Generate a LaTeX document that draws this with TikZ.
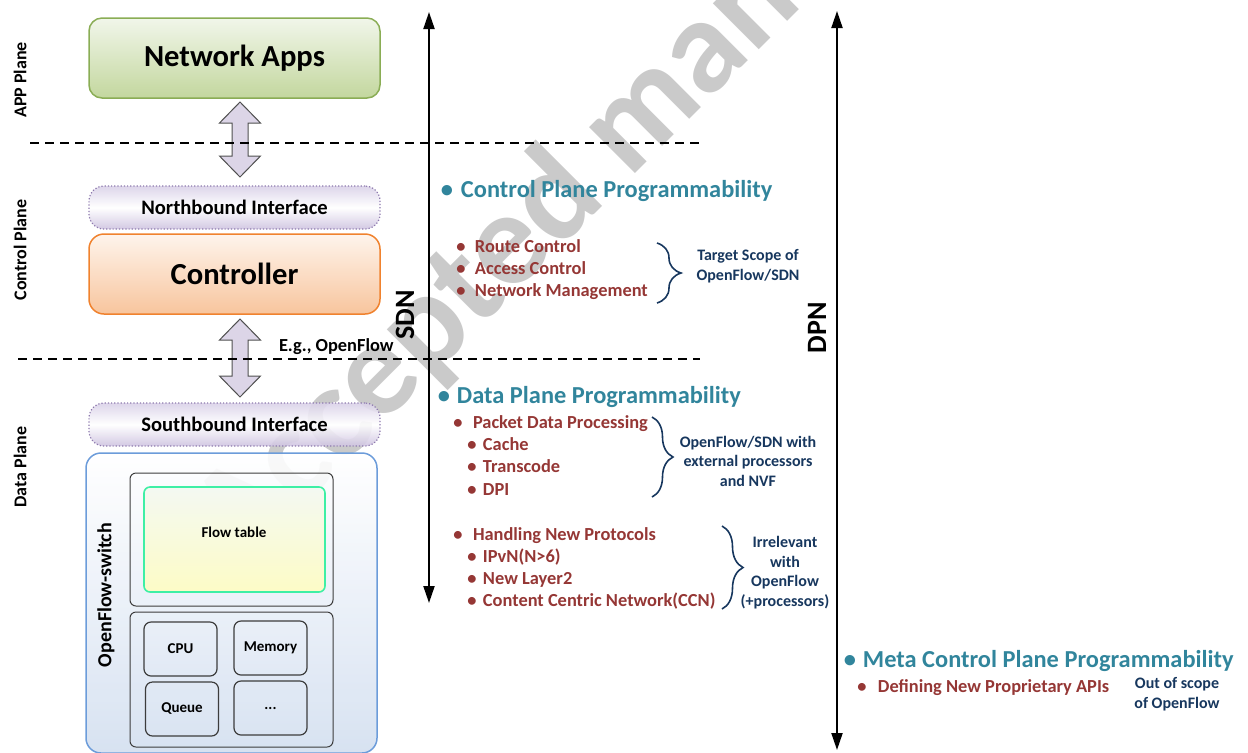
\documentclass[tikz,border=0pt]{standalone}
\usepackage{fontspec}
\setmainfont{Carlito}
\usetikzlibrary{arrows.meta,decorations.pathreplacing,calc}
\definecolor{wmgray}{HTML}{CACACA}
\definecolor{appsborder}{HTML}{8AAD55}
\definecolor{appstop}{HTML}{F1F6EA}
\definecolor{appsbot}{HTML}{C3D79E}
\definecolor{ifaceborder}{HTML}{8E7AAE}
\definecolor{ifacetop}{HTML}{D9D1E8}
\definecolor{ifacebot}{HTML}{CEC3E0}
\definecolor{ctrlborder}{HTML}{F0822E}
\definecolor{ctrltop}{HTML}{FEF4EC}
\definecolor{ctrlbot}{HTML}{F8C59D}
\definecolor{swborder}{HTML}{6C9CDA}
\definecolor{swbot}{HTML}{D3DFF0}
\definecolor{innerborder}{HTML}{3C3C3C}
\definecolor{flowborder}{HTML}{3EEFA5}
\definecolor{flowtop}{HTML}{F4F9F2}
\definecolor{flowbot}{HTML}{FDFBC6}
\definecolor{arrowfill}{HTML}{DCD5E7}
\definecolor{arrowborder}{HTML}{505050}
\definecolor{teal}{HTML}{31859C}
\definecolor{dred}{HTML}{953735}
\definecolor{navy}{HTML}{17375E}
\newcommand{\bl}[1]{\llap{\textbullet\hspace{#1}}}
\begin{document}
\begin{tikzpicture}[x=0.5pt,y=-0.5pt,
  every node/.style={inner sep=0pt, outer sep=0pt},
  wm/.style={text=wmgray, font=\fontsize{67}{67}\selectfont\bfseries, rotate=45, anchor=base west},
  appsbox/.style={draw=appsborder, line width=0.75pt, top color=appstop, bottom color=appsbot,
    minimum width=145.5pt, minimum height=40pt, rounded corners=6.5pt,
    font=\fontsize{15.3}{18}\selectfont\bfseries},
  ifacebox/.style={draw=ifaceborder, densely dotted, line width=0.6pt, top color=ifacetop,
    bottom color=ifacebot, middle color=white, fill opacity=0.9, text opacity=1,
    minimum width=145.5pt, minimum height=21.5pt, rounded corners=7.5pt,
    font=\fontsize{10.3}{12}\selectfont\bfseries},
  ctrlbox/.style={draw=ctrlborder, line width=0.75pt, top color=ctrltop, bottom color=ctrlbot,
    minimum width=145.5pt, minimum height=40pt, rounded corners=7.5pt,
    font=\fontsize{15.3}{18}\selectfont\bfseries},
  switchbox/.style={draw=swborder, line width=0.75pt, top color=white, bottom color=swbot,
    fill opacity=0.9, minimum width=145.5pt, minimum height=150pt, rounded corners=7.5pt},
  innerbox/.style={draw=innerborder, line width=0.5pt, rounded corners=3pt, minimum width=101.5pt},
  flowbox/.style={draw=flowborder, line width=0.8pt, top color=flowtop, bottom color=flowbot,
    rounded corners=3pt, minimum width=90.5pt, minimum height=52.5pt},
  unitbox/.style={draw=innerborder, line width=0.6pt, rounded corners=3.5pt,
    minimum width=36.5pt, minimum height=27pt, font=\fontsize{7.5}{9}\selectfont\bfseries},
  sidelabel/.style={rotate=90, font=\fontsize{9}{10}\selectfont\bfseries},
  biglabel/.style={rotate=90, font=\fontsize{14}{16}\selectfont\bfseries},
  headtext/.style={anchor=base west, text=teal, font=\fontsize{12.2}{14}\selectfont\bfseries},
  itemtext/.style={anchor=base west, text=dred, font=\fontsize{9.2}{11}\selectfont\bfseries},
  notetext/.style={align=center, text=navy, font=\fontsize{8}{9.75}\selectfont\bfseries},
  scopearrow/.style={line width=1pt, {Triangle[length=8.5pt,width=5.5pt]}-{Triangle[length=8.5pt,width=5.5pt]}},
  sepline/.style={line width=0.9pt, dash pattern=on 4.5pt off 3pt},
  blockarrow/.style={fill=arrowfill, draw=arrowborder, line width=0.5pt},
  bracestyle/.style={decorate, draw=navy, line width=0.8pt}
]
\useasboundingbox (0,0) rectangle (1248,752);
\clip (0,0) rectangle (1248,752);

% watermark
\node[wm] (wmark) at (243,565.5) {Accepted manuscript};

% left column boxes
\node[appsbox] (apps) at (234.5,58) {Network Apps};
\node[ifacebox] (nb) at (234.5,207.5) {Northbound Interface};
\node[ctrlbox] (ctrl) at (234.5,274) {Controller};
\node[ifacebox] (sb) at (234.5,424.5) {Southbound Interface};
\node[switchbox] (sw) at (231.5,603) {};
\node[innerbox, minimum height=66.5pt] (c1) at (231.5,539.5) {};
\node[flowbox] (ft) at (234.5,539.5) {};
\node[font=\fontsize{7.5}{9}\selectfont\bfseries] (ftl) at (234,532) {Flow table};
\node[innerbox, minimum height=67.5pt] (c2) at (231.5,679.5) {};
\node[unitbox] (cpu) at (180.5,649) {CPU};
\node[unitbox] (mem) at (270.5,648) {Memory};
\node[unitbox] (que) at (182,709) {Queue};
\node[unitbox] (dots) at (270.5,708) {...};
\node[rotate=90, font=\fontsize{10}{12}\selectfont\bfseries] (swl) at (106,595) {OpenFlow-switch};

% block arrows
\coordinate (a1) at (240,102);
\coordinate (a2) at (240,319);
\draw[blockarrow] (a1) -- ++(20.5,21) -- ++(-12.5,0) -- ++(0,33) -- ++(12.5,0) -- ++(-20.5,21)
  -- ++(-20.5,-21) -- ++(12.5,0) -- ++(0,-33) -- ++(-12.5,0) -- cycle;
\draw[blockarrow] (a2) -- ++(20.5,21) -- ++(-12.5,0) -- ++(0,36) -- ++(12.5,0) -- ++(-20.5,21)
  -- ++(-20.5,-21) -- ++(12.5,0) -- ++(0,-36) -- ++(-12.5,0) -- cycle;

% separators
\coordinate (s1a) at (30,143);
\coordinate (s1b) at (700,143);
\coordinate (s2a) at (18,359);
\coordinate (s2b) at (700,359);
\draw[sepline] (s1a) -- (s1b);
\draw[sepline] (s2a) -- (s2b);

% plane labels
\node[sidelabel] (appl) at (20,80) {APP Plane};
\node[sidelabel] (ctll) at (20,250) {Control Plane};
\node[sidelabel] (datl) at (20,467) {Data Plane};
\node[anchor=base west, font=\fontsize{9.2}{11}\selectfont\bfseries] (eg) at (279,351) {E.g., OpenFlow};

% scope arrows
\coordinate (sdnt) at (429,12);
\coordinate (sdnb) at (429,603);
\coordinate (dpnt) at (837,11);
\coordinate (dpnb) at (837,750);
\draw[scopearrow] (sdnt) -- (sdnb);
\draw[scopearrow] (dpnt) -- (dpnb);
\node[biglabel] (sdn) at (405,315) {SDN};
\node[biglabel] (dpn) at (817,328) {DPN};

% control plane programmability
\node[headtext] (cpp) at (461,197) {\bl{3.95pt}Control Plane Programmability};
\node[itemtext] (rc) at (475,252) {\bl{4.7pt}Route Control};
\node[itemtext] (ac) at (475,274) {\bl{4.7pt}Access Control};
\node[itemtext] (nm) at (475,296) {\bl{4.7pt}Network Management};
\coordinate (b1t) at (657,243);
\coordinate (b1b) at (657,303);
\draw[bracestyle, decoration={brace, amplitude=12pt}] (b1t) -- (b1b);
\node[notetext] (n1) at (748,266) {Target Scope of\\OpenFlow/SDN};

% data plane programmability
\node[headtext] (dpp) at (457,403) {\bl{3.45pt}Data Plane Programmability};
\node[itemtext] (pdp) at (473,428) {\bl{5.2pt}Packet Data Processing};
\node[itemtext] (cache) at (483,450) {\bl{3.2pt}Cache};
\node[itemtext] (tc) at (483,472) {\bl{3.2pt}Transcode};
\node[itemtext] (dpi) at (483,495) {\bl{3.2pt}DPI};
\coordinate (b2t) at (652,417);
\coordinate (b2b) at (652,497);
\draw[bracestyle, decoration={brace, amplitude=10.5pt}] (b2t) -- (b2b);
\node[notetext] (n2) at (748,461) {OpenFlow/SDN with\\external processors\\and NVF};

\node[itemtext] (hnp) at (473,540) {\bl{5.2pt}Handling New Protocols};
\node[itemtext] (ipvn) at (483,562) {\bl{3.2pt}IPvN(N>6)};
\node[itemtext] (nl2) at (483,584) {\bl{3.2pt}New Layer2};
\node[itemtext] (ccn) at (483,606) {\bl{3.2pt}Content Centric Network(CCN)};
\coordinate (b3t) at (722,526);
\coordinate (b3b) at (722,609);
\draw[bracestyle, decoration={brace, amplitude=10.5pt}] (b3t) -- (b3b);
\node[notetext] (n3) at (785,572.5) {Irrelevant\\with\\OpenFlow\\(+processors)};

% meta control plane
\node[headtext] (mcp) at (863,667) {\bl{3.45pt}Meta Control Plane Programmability};
\node[itemtext] (dnp) at (878,692) {\bl{5.7pt}Defining New Proprietary APIs};
\node[notetext] (n4) at (1177,694) {Out of scope\\of OpenFlow};
\end{tikzpicture}
\end{document}
